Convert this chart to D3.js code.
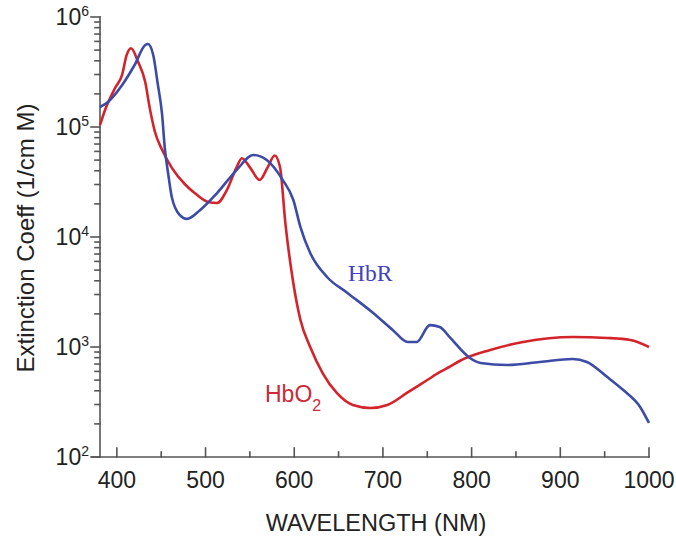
<!DOCTYPE html>
<html>
<head>
<meta charset="utf-8">
<script src="https://cdn.jsdelivr.net/npm/d3@7"></script>
<style>
  html, body { margin: 0; padding: 0; background: #fff; }
  svg { display: block; font-family: "Liberation Sans", Arial, Helvetica, sans-serif; }
</style>
</head>
<body>
<svg id="chart" width="676" height="536"></svg>
<script>
// Hemoglobin molar extinction spectra (1/cm M) against wavelength (nm)
const hbo2Wavelength = [381, 387, 398, 406, 411, 416, 424, 432, 437, 443, 451, 462, 477, 488, 503, 513, 524, 535, 541, 550, 561, 570, 578, 584, 590, 599, 607, 618, 632, 648, 666, 686, 705, 727, 750, 764, 776, 787, 821, 858, 914, 953, 979, 1000];
const hbo2Values     = [1.04e5, 1.45e5, 2.26e5, 3.0e5, 4.5e5, 5.2e5, 3.9e5, 2.56e5, 1.5e5, 9.0e4, 6.2e4, 4.25e4, 3.0e4, 2.5e4, 2.08e4, 2.04e4, 2.67e4, 4.3e4, 5.2e4, 4.3e4, 3.3e4, 4.3e4, 5.5e4, 4.3e4, 1.34e4, 3.8e3, 1.76e3, 1.0e3, 580, 382, 297, 279, 297, 382, 501, 590, 665, 750, 940, 1110, 1233, 1208, 1158, 1000];

const hbrWavelength  = [381, 390, 406, 420, 432, 435, 441, 446, 451, 454, 458, 462, 471, 479, 494, 513, 535, 554, 569, 587, 599, 607, 618, 637, 660, 689, 711, 728, 738, 753, 764, 776, 798, 810, 840, 877, 914, 930, 953, 971, 990, 1000];
const hbrValues      = [1.52e5, 1.69e5, 2.41e5, 3.66e5, 5.56e5, 5.68e5, 4.52e5, 2.5e5, 1.3e5, 6.5e4, 3.7e4, 2.3e4, 1.58e4, 1.46e4, 1.76e4, 2.51e4, 4.06e4, 5.56e4, 5.01e4, 3.3e4, 2.17e4, 1.23e4, 7.16e3, 4.33e3, 3.1e3, 2.04e3, 1.43e3, 1.11e3, 1.11e3, 1.58e3, 1.52e3, 1.21e3, 794, 716, 686, 731, 778, 731, 533, 406, 285, 204];

const xMajorTicks = [400, 500, 600, 700, 800, 900, 1000];
const xMinorTicks = [450, 550, 650, 750, 850, 950];
const yMajorTicks = [1e2, 1e3, 1e4, 1e5, 1e6];
const yExponents  = ["2", "3", "4", "5", "6"];

const svg = d3.select("#chart");
const axisColor = "#555";
const plot = { left: 100, right: 649, top: 17, bottom: 457 };

const x = d3.scaleLinear().domain([381, 1000]).range([plot.left, plot.right]);
const y = d3.scaleLog().domain([1e2, 1e6]).range([plot.bottom, plot.top]);

// minor log ticks 2..9 within each decade
const yMinorTicks = [];
for (let d = 2; d < 6; d++) {
  for (let m = 2; m <= 9; m++) yMinorTicks.push(m * Math.pow(10, d));
}

// ---- axis lines and tick marks ----
const axes = svg.append("g")
  .attr("stroke", axisColor)
  .attr("stroke-width", 1.6)
  .attr("stroke-linecap", "square")
  .attr("fill", "none");

axes.append("line")
  .attr("x1", plot.left).attr("x2", plot.left)
  .attr("y1", plot.top).attr("y2", plot.bottom);
axes.append("line")
  .attr("x1", plot.left - 8).attr("x2", plot.right)
  .attr("y1", plot.bottom).attr("y2", plot.bottom);

// y ticks point outward (left)
axes.selectAll("line.ymin").data(yMinorTicks).join("line")
  .attr("class", "ymin")
  .attr("x1", plot.left - 5).attr("x2", plot.left)
  .attr("y1", d => y(d)).attr("y2", d => y(d));
axes.selectAll("line.ymaj").data(yMajorTicks).join("line")
  .attr("class", "ymaj")
  .attr("x1", plot.left - 9).attr("x2", plot.left)
  .attr("y1", d => y(d)).attr("y2", d => y(d));

// x ticks point inward (up)
axes.selectAll("line.xmin").data(xMinorTicks).join("line")
  .attr("class", "xmin")
  .attr("x1", d => x(d)).attr("x2", d => x(d))
  .attr("y1", plot.bottom).attr("y2", plot.bottom - 5);
axes.selectAll("line.xmaj").data(xMajorTicks).join("line")
  .attr("class", "xmaj")
  .attr("x1", d => x(d)).attr("x2", d => x(d))
  .attr("y1", plot.bottom).attr("y2", plot.bottom - 9);

// ---- tick labels ----
yMajorTicks.forEach((v, i) => {
  const t = svg.append("text")
    .attr("x", 89)
    .attr("y", y(v) + 8)
    .attr("text-anchor", "end")
    .attr("font-size", 23)
    .attr("fill", "#222");
  t.append("tspan").text("10");
  t.append("tspan").attr("dy", -9).attr("font-size", 14).text(yExponents[i]);
});

svg.selectAll("text.xlab").data(xMajorTicks).join("text")
  .attr("class", "xlab")
  .attr("x", d => x(d))
  .attr("y", 488)
  .attr("text-anchor", "middle")
  .attr("font-size", 23)
  .attr("fill", "#222")
  .text(d => d3.format("d")(d));

// ---- axis titles ----
svg.append("text")
  .attr("transform", `translate(25,238) rotate(-90)`)
  .attr("text-anchor", "middle")
  .attr("dominant-baseline", "central")
  .attr("font-size", 24)
  .attr("fill", "#222")
  .text("Extinction Coeff (1/cm M)");

svg.append("text")
  .attr("x", 376)
  .attr("y", 531)
  .attr("text-anchor", "middle")
  .attr("font-size", 23.5)
  .attr("fill", "#222")
  .text("WAVELENGTH (NM)");

// ---- spectra ----
const line = d3.line()
  .x(d => x(d[0]))
  .y(d => y(d[1]))
  .curve(d3.curveMonotoneX);

const hbo2 = hbo2Wavelength.map((w, i) => [w, hbo2Values[i]]);
const hbr = hbrWavelength.map((w, i) => [w, hbrValues[i]]);

svg.append("path").datum(hbo2)
  .attr("d", line)
  .attr("fill", "none")
  .attr("stroke", "#d3232b")
  .attr("stroke-width", 2.6)
  .attr("stroke-linejoin", "round");

svg.append("path").datum(hbr)
  .attr("d", line)
  .attr("fill", "none")
  .attr("stroke", "#3b4ba6")
  .attr("stroke-width", 2.6)
  .attr("stroke-linejoin", "round");

// ---- series labels ----
svg.append("text")
  .attr("x", 348)
  .attr("y", 281)
  .attr("font-family", "'Liberation Serif', 'Times New Roman', serif")
  .attr("font-size", 23.5)
  .attr("fill", "#4540be")
  .text("HbR");

const lbl = svg.append("text")
  .attr("x", 265)
  .attr("y", 402)
  .attr("font-size", 23)
  .attr("fill", "#cc2a38");
lbl.append("tspan").text("HbO");
lbl.append("tspan").attr("dy", 9).attr("font-size", 16).text("2");
</script>
</body>
</html>
